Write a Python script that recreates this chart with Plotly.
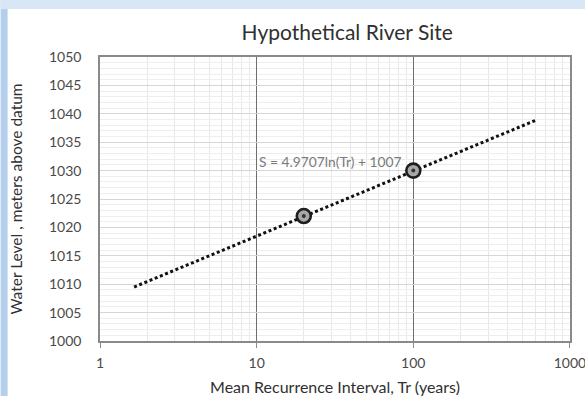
import plotly.graph_objects as go

# Data
tr_points = [20, 100]
s_points = [1022.0, 1030.0]
trend_tr = [1.65, 610]
trend_s = [1009.5, 1038.9]
x_ticks = [1, 10, 100, 1000]
x_ticktext = ["1", "10", "100", "1000"]
x_minor = [m * d for d in (1, 10, 100) for m in range(2, 10)]
equation = "S = 4.9707ln(Tr) + 1007"

W, H = 585, 396
L, R, T, B = 99.5, 570, 57, 341.5
pw, ph = R - L, B - T

def px(p):
    return (p - L) / pw

def py(p):
    return (B - p) / ph

FONT = "Lato"

fig = go.Figure()
fig.add_trace(go.Scatter(
    x=trend_tr, y=trend_s, mode="lines",
    line=dict(color="#111111", width=3, dash="3px,2.6px"),
    hoverinfo="skip", showlegend=False))
fig.add_trace(go.Scatter(
    x=tr_points, y=s_points, mode="markers",
    marker=dict(size=14, color="#a8a8a8", line=dict(color="#1e1e1e", width=2.6)),
    showlegend=False))
fig.add_trace(go.Scatter(
    x=tr_points, y=s_points, mode="markers",
    marker=dict(size=4, color="#333333"),
    showlegend=False, hoverinfo="skip"))

fig.add_annotation(
    x=px(330), y=py(162), xref="paper", yref="paper",
    text=equation, showarrow=False,
    font=dict(family=FONT, size=13.8, color="#7a7a7a"),
    xanchor="center", yanchor="middle")

shapes = [
    dict(type="rect", xref="paper", yref="paper",
         x0=px(0), x1=px(7), y0=py(400), y1=py(0),
         fillcolor="#b3cfec", line=dict(width=0), layer="below"),
    dict(type="rect", xref="paper", yref="paper",
         x0=px(0), x1=px(590), y0=py(9), y1=py(0),
         fillcolor="#d8e6f5", line=dict(width=0), layer="below"),
]

fig.update_layout(
    width=W, height=H,
    margin=dict(l=L, r=W - R, t=T, b=H - B, pad=0, autoexpand=False),
    paper_bgcolor="white", plot_bgcolor="white",
    shapes=shapes,
    title=dict(text="Hypothetical River Site", x=px(347), xref="paper",
               xanchor="center", y=1 - 33 / H, yanchor="middle",
               font=dict(family=FONT, size=21, color="#303030")),
    xaxis=dict(
        type="log", range=[0, 3.0004], automargin=False,
        tickmode="array", tickvals=x_ticks, ticktext=x_ticktext,
        showgrid=True, gridcolor="#6e6e6e", gridwidth=1.3,
        showline=True, linecolor="#8a8a8a", linewidth=1.5, mirror=True,
        ticks="outside", ticklen=5, tickcolor="#8a8a8a", tickwidth=1.3,
        ticklabelstandoff=3, ticklabeloverflow="allow",
        tickfont=dict(family=FONT, size=14, color="#4a4a4a"),
        minor=dict(tickmode="array", tickvals=x_minor, showgrid=True,
                   gridcolor="#e8e8e8", gridwidth=1, ticks=""),
        title=dict(text="Mean Recurrence Interval, Tr (years)",
                   font=dict(family=FONT, size=16, color="#303030"),
                   standoff=16),
        zeroline=False,
    ),
    yaxis=dict(
        range=[1000, 1050], dtick=5, tick0=1000, automargin=False,
        showgrid=True, gridcolor="#d6d6d6", gridwidth=1,
        showline=True, linecolor="#8a8a8a", linewidth=1.5, mirror=True,
        ticks="", ticklabelstandoff=14,
        tickfont=dict(family=FONT, size=14, color="#4a4a4a"),
        minor=dict(dtick=1, showgrid=True, gridcolor="#eeeeee", gridwidth=1),
        title=dict(text="Water Level , meters above datum",
                   font=dict(family=FONT, size=15.5, color="#303030"),
                   standoff=23),
        zeroline=False,
    ),
)

fig.write_html("out.html")
